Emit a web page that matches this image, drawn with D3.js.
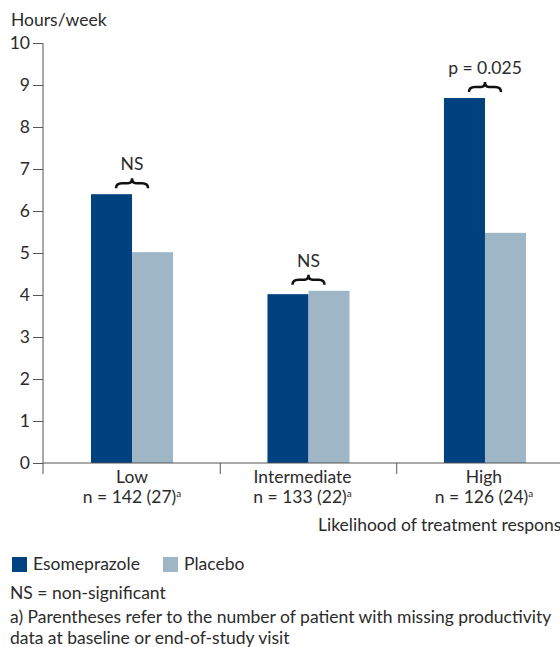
<!DOCTYPE html>
<html>
<head>
<meta charset="utf-8">
<script src="https://cdn.jsdelivr.net/npm/d3@7"></script>
<style>
  body { margin: 0; background: #fff; }
  svg { display: block; font-family: Lato, "Open Sans", sans-serif; }
  text { fill: #2b2b2b; }
</style>
</head>
<body>
<svg id="chart" width="560" height="647"></svg>
<script>
const categories = ['Low', 'Intermediate', 'High']
const sampleLabels = ['n = 142 (27)', 'n = 133 (22)', 'n = 126 (24)']
const seriesNames = ['Esomeprazole', 'Placebo']
const esomeprazole = [6.40, 4.02, 8.69]
const placebo = [5.02, 4.10, 5.48]
const significance = ['NS', 'NS', 'p = 0.025']
const yTicks = [0, 1, 2, 3, 4, 5, 6, 7, 8, 9, 10]
const footnotes = [
  'NS = non-significant',
  'a) Parentheses refer to the number of patient with missing productivity',
  'data at baseline or end-of-study visit',
]

const colors = {Esomeprazole: '#00417f', Placebo: '#9fb6c6'}
const axisColor = '#555'
const fontSize = '17.5px'

const svg = d3.select('#chart')
const x0 = 43
const y0 = 463

const y = d3.scaleLinear().domain([0, 10]).range([y0, 43])
const xBars = d3.scaleBand().domain(categories).range([x0, 574])
  .paddingInner(0.535).paddingOuter(0.272)
const xSub = d3.scaleBand().domain(seriesNames).range([0, xBars.bandwidth()])
const groupCenter = (c) => xBars(c) + xBars.bandwidth() / 2

const data = categories.map((c, i) => ({
  category: c,
  values: [
    {series: 'Esomeprazole', value: esomeprazole[i]},
    {series: 'Placebo', value: placebo[i]},
  ],
}))

// bars
const groups = svg.selectAll('.group')
  .data(data)
  .enter()
  .append('g')
  .attr('class', 'group')
  .attr('transform', (d) => `translate(${xBars(d.category)}, 0)`)

groups.selectAll('rect')
  .data((d) => d.values)
  .enter()
  .append('rect')
  .attr('x', (d) => xSub(d.series))
  .attr('y', (d) => y(d.value))
  .attr('width', xSub.bandwidth())
  .attr('height', (d) => y0 - y(d.value))
  .attr('fill', (d) => colors[d.series])

// y axis
const yAxis = svg.append('g')
  .attr('transform', `translate(${x0}, 0)`)
  .call(d3.axisLeft(y).tickValues(yTicks).tickSize(10).tickPadding(3))
yAxis.select('.domain').remove()
yAxis.selectAll('line').attr('stroke', axisColor)
yAxis.selectAll('text')
  .style('font-size', fontSize)
  .style('font-family', 'Lato, "Open Sans", sans-serif')
  .attr('fill', '#2b2b2b')
svg.append('line')
  .attr('x1', x0).attr('x2', x0)
  .attr('y1', y(10)).attr('y2', y0 + 11)
  .attr('stroke', axisColor)

svg.append('text')
  .attr('x', 11)
  .attr('y', 26)
  .style('font-size', fontSize)
  .text('Hours/week')

// x axis
svg.append('line')
  .attr('x1', x0).attr('x2', 560)
  .attr('y1', y0).attr('y2', y0)
  .attr('stroke', axisColor)

// separator ticks halfway between the bar groups
const separators = categories.slice(1).map((c, i) =>
  (groupCenter(categories[i]) + groupCenter(c)) / 2)
svg.selectAll('.xtick')
  .data(separators)
  .enter()
  .append('line')
  .attr('class', 'xtick')
  .attr('x1', (d) => d).attr('x2', (d) => d)
  .attr('y1', y0).attr('y2', y0 + 11)
  .attr('stroke', axisColor)

const labels = svg.selectAll('.xlabel')
  .data(categories)
  .enter()
  .append('g')
  .attr('class', 'xlabel')
  .attr('transform', (d, i) => `translate(${groupCenter(d) - [0, 6, 1][i]}, 0)`)

labels.append('text')
  .attr('y', 483)
  .attr('text-anchor', 'middle')
  .style('font-size', fontSize)
  .text((d) => d)

const nText = labels.append('text')
  .attr('y', 503)
  .attr('text-anchor', 'middle')
  .style('font-size', fontSize)
nText.append('tspan').text((d, i) => sampleLabels[i])
nText.append('tspan')
  .attr('dy', -6)
  .style('font-size', '10px')
  .text('a')

svg.append('text')
  .attr('x', 318)
  .attr('y', 531)
  .style('font-size', fontSize)
  .text('Likelihood of treatment response')

// significance braces
function bracePath(cx, yb, w, h) {
  const l = cx - w / 2
  const r = cx + w / 2
  return `M${l},${yb} Q${l},${yb - h / 2} ${l + 6},${yb - h / 2}` +
    ` L${cx - 4},${yb - h / 2} Q${cx},${yb - h / 2} ${cx},${yb - h}` +
    ` Q${cx},${yb - h / 2} ${cx + 4},${yb - h / 2}` +
    ` L${r - 6},${yb - h / 2} Q${r},${yb - h / 2} ${r},${yb}`
}

data.forEach((d, i) => {
  const cx = groupCenter(d.category)
  const top = y(d3.max(d.values, (v) => v.value))
  const yb = top - 6
  svg.append('path')
    .attr('d', bracePath(cx, yb, 32, 10))
    .attr('fill', 'none')
    .attr('stroke', '#111')
    .attr('stroke-width', 2.5)
  svg.append('text')
    .attr('x', cx)
    .attr('y', yb - 18)
    .attr('text-anchor', 'middle')
    .style('font-size', fontSize)
    .text(significance[i])
})

// legend
const legend = svg.selectAll('.legend')
  .data(seriesNames)
  .enter()
  .append('g')
  .attr('class', 'legend')
  .attr('transform', (d, i) => `translate(${12 + i * 151}, 557)`)
legend.append('rect')
  .attr('width', 15).attr('height', 15)
  .attr('fill', (d) => colors[d])
legend.append('text')
  .attr('x', 21).attr('y', 13)
  .style('font-size', fontSize)
  .text((d) => d)

// footnotes
svg.selectAll('.note')
  .data(footnotes)
  .enter()
  .append('text')
  .attr('class', 'note')
  .attr('x', 10)
  .attr('y', (d, i) => [599, 623, 644][i])
  .style('font-size', fontSize)
  .text((d) => d)
</script>
</body>
</html>
